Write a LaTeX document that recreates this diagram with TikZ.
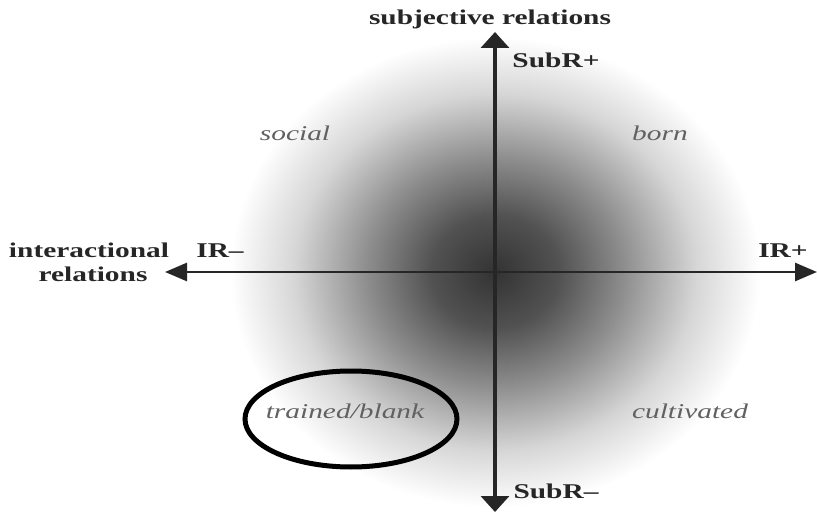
\documentclass[tikz,border=0pt]{standalone}
\usepackage{fontspec}
\setmainfont{Liberation Serif}[FakeStretch=1.4, BoldFont={Liberation Serif Bold}, ItalicFont={Liberation Serif Italic}, BoldItalicFont={Liberation Serif Bold Italic}, BoldFeatures={FakeStretch=1.4}, ItalicFeatures={FakeStretch=1.4}]
\usetikzlibrary{arrows.meta}
\pgfdeclareradialshading{blob}{\pgfpoint{0bp}{0bp}}{color(0bp)=(black!80); color(6bp)=(black!68); color(12bp)=(black!45); color(19bp)=(black!16); color(25bp)=(white); color(50bp)=(white)}
\tikzset{
  axis/.style={draw=black!85, line width=3pt},
  vhead/.style={-{Triangle[length=16pt,width=28pt]}},
  hhead/.style={-{Triangle[length=22pt,width=18pt]}},
  boldlab/.style={font=\fontsize{21}{24}\selectfont\bfseries, text=black!85, inner sep=0pt, anchor=base},
  itlab/.style={font=\fontsize{21}{24}\selectfont\itshape, text=black!62, inner sep=0pt, anchor=base},
  ring/.style={draw=black, line width=5pt}
}
\begin{document}
\begin{tikzpicture}[x=1pt,y=-1pt]
\useasboundingbox (0,0) rectangle (817,513);
\coordinate (o) at (495,272);
\shade[shading=blob] (o) ellipse [x radius=265, y radius=235];
\coordinate (top) at (495,32);
\coordinate (bot) at (495,512);
\coordinate (lft) at (165,272);
\coordinate (rgt) at (817,272);
\draw[axis, line width=3.5pt, vhead] (o) -- (top);
\draw[axis, line width=3.5pt, vhead] (o) -- (bot);
\draw[axis, line width=2.8pt, hhead] (o) -- (lft);
\draw[axis, line width=2.8pt, hhead] (o) -- (rgt);
\node[boldlab] (subj) at (490,25) {subjective relations};
\node[boldlab] (subp) at (556,68) {SubR+};
\node[boldlab] (subm) at (556,498) {SubR–};
\node[boldlab] (inter) at (89,258) {interactional};
\node[boldlab] (rel) at (93,282) {relations};
\node[boldlab] (irm) at (220,258) {IR–};
\node[boldlab] (irp) at (783,258) {IR+};
\node[itlab] (social) at (295,141) {social};
\node[itlab] (born) at (660,141) {born};
\node[itlab] (cult) at (690,418) {cultivated};
\node[itlab] (trained) at (345,418) {trained/blank};
\draw[ring] (351,419) ellipse [x radius=106, y radius=48];
\end{tikzpicture}
\end{document}
